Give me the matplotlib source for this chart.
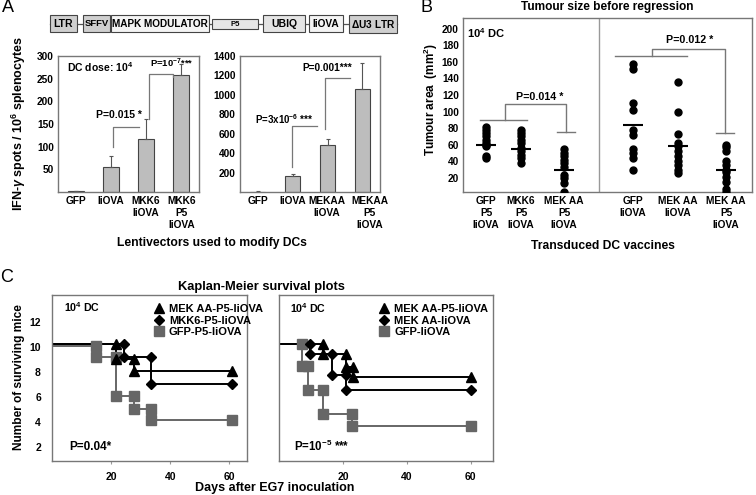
import numpy as np
import matplotlib
matplotlib.use('Agg')
import matplotlib.pyplot as plt
from matplotlib.patches import Rectangle
from matplotlib.lines import Line2D

plt.rcParams['font.family'] = ['Liberation Sans', 'DejaVu Sans']
plt.rcParams['font.weight'] = 'bold'
plt.rcParams['mathtext.fontset'] = 'custom'
plt.rcParams['mathtext.rm'] = 'Liberation Sans:bold'
plt.rcParams['mathtext.it'] = 'Liberation Sans:bold:italic'
plt.rcParams['mathtext.bf'] = 'Liberation Sans:bold'

# ---- data ----
# panel A, ELISPOT
a1_labels = ['GFP', 'IiOVA', 'MKK6\nIiOVA', 'MKK6\nP5\nIiOVA']
a1_vals = [2, 55, 118, 258]
a1_err = [1, 25, 44, 24]
a2_labels = ['GFP', 'IiOVA', 'MEKAA\nIiOVA', 'MEKAA\nP5\nIiOVA']
a2_vals = [5, 160, 480, 1065]
a2_err = [3, 30, 70, 260]

# panel B, tumour area per mouse
b_labels = ['GFP\nP5\nIiOVA', 'MKK6\nP5\nIiOVA', 'MEK AA\nP5\nIiOVA',
            'GFP\nIiOVA', 'MEK AA\nIiOVA', 'MEK AA\nP5\nIiOVA']
b_groups = [
    [82, 78, 74, 70, 66, 62, 60, 58, 46, 44],
    [78, 74, 70, 66, 62, 56, 52, 48, 44, 38],
    [55, 50, 46, 42, 38, 33, 24, 20, 14, 3],
    [157, 152, 111, 102, 78, 72, 55, 50, 44, 30],
    [136, 100, 73, 62, 58, 52, 46, 40, 35, 30, 26],
    [60, 57, 52, 41, 36, 30, 27, 21, 15, 7, 3],
]
b_means = [60, 55, 29, 84, 58, 30]

# panel C, Kaplan-Meier (event days, surviving numbers)
c1_tri_days = [21.7, 27.8]
c1_tri_n = [10.3, 9.1, 8.1]
c1_dia_days = [24.5, 33.4]
c1_dia_n = [10.3, 9.2, 7.1]
c1_sq_days = [14.8, 21.7, 27.8, 33.4]
c1_sq_n = [10.1, 9.2, 6.1, 5.1, 4.2]
c1_end = 61

c2_tri_days = [13.9, 20.9, 23.2]
c2_tri_n = [10.3, 9.5, 8.4, 7.6]
c2_dia_days = [9.7, 16.5, 21.1]
c2_dia_n = [10.3, 9.5, 7.8, 6.6]
c2_sq_days = [7.2, 9.0, 13.7, 23.0]
c2_sq_n = [10.3, 8.5, 6.6, 4.7, 3.7]
c2_end = 60

W, H = 756, 495
fig = plt.figure(figsize=(7.56, 4.95), dpi=100)


def rect(x0, y0, x1, y1):
    return [x0 / W, 1 - y1 / H, (x1 - x0) / W, (y1 - y0) / H]


def frame(ax):
    for s in ax.spines.values():
        s.set_color('#777777')
        s.set_linewidth(1.0)


# overlay in pixel coordinates for labels and the vector map
ov = fig.add_axes([0, 0, 1, 1])
ov.set_xlim(0, W)
ov.set_ylim(H, 0)
ov.axis('off')

ov.text(8, 8, 'A', fontsize=13, fontweight='normal', ha='center', va='center')
ov.text(426, 7, 'B', fontsize=13, fontweight='normal', ha='center', va='center')
ov.text(7, 278, 'C', fontsize=13, fontweight='normal', ha='center', va='center')

# lentivector map
ov.plot([50, 397], [24, 24], color='#555555', lw=0.9, zorder=1)
parts = [('LTR', 50, 77, 15, 32, '#cfcfcf', 7.5),
         ('SFFV', 83, 110, 15, 32, '#cfcfcf', 6.8),
         ('MAPK MODULATOR', 111, 209, 15, 32, '#f4f4f4', 7.2),
         ('P5', 212, 258, 19, 29, '#e6e6e6', 5.5),
         ('UBIQ', 263, 305, 15, 32, '#e4e4e4', 7.5),
         ('IiOVA', 309, 343, 15, 32, '#f4f4f4', 7.3),
         (r'$\Delta$U3 LTR', 349, 397, 15, 33, '#cfcfcf', 7.3)]
for name, x0, x1, y0, y1, fc, fs in parts:
    ov.add_patch(Rectangle((x0, y0), x1 - x0, y1 - y0, facecolor=fc,
                           edgecolor='#444444', lw=0.8, zorder=2))
    ov.text((x0 + x1) / 2, (y0 + y1) / 2 + 0.5, name, fontsize=fs,
            ha='center', va='center', zorder=3)

ov.text(19, 124, r'IFN-$\gamma$ spots / 10$^{6}$ splenocytes', fontsize=9,
        rotation=90, ha='center', va='center')
ov.text(212, 243, 'Lentivectors used to modify DCs', fontsize=8.7,
        ha='center', va='center')
ov.text(607, 7, 'Tumour size before regression', fontsize=8.6,
        ha='center', va='center')
ov.text(431, 100, 'Tumour area  (mm$^{2}$)', fontsize=8.5, rotation=90,
        ha='center', va='center')
ov.text(603, 246, 'Transduced DC vaccines', fontsize=8.7, ha='center', va='center')
ov.text(261, 287, 'Kaplan-Meier survival plots', fontsize=9.3,
        ha='center', va='center')
ov.text(19, 377, 'Number of surviving mice', fontsize=8.6, rotation=90,
        ha='center', va='center')
ov.text(275, 488, 'Days after EG7 inoculation', fontsize=9,
        ha='center', va='center')


# ---- panel A bars ----
def bars(ax, vals, err, labels, ymax, yticks, tickpos):
    x = np.arange(len(vals))
    ax.bar(x, vals, width=0.45, color='#bdbdbd', edgecolor='#444444', lw=0.8)
    ax.errorbar(x, vals, yerr=[np.zeros(len(err)), err], fmt='none',
                ecolor='#555555', elinewidth=0.8, capsize=1.5, capthick=0.8)
    ax.set_xlim(-0.5, 3.5)
    ax.set_ylim(0, ymax)
    ax.set_yticks(yticks)
    ax.set_xticks(tickpos)
    ax.set_xticklabels(labels, fontsize=7.3, linespacing=1.25)
    ax.tick_params(length=0, labelsize=7.3, pad=3)
    frame(ax)


bk = '#777777'
axA1 = fig.add_axes(rect(58, 56, 199, 192))
bars(axA1, a1_vals, a1_err, a1_labels, 300, range(50, 301, 50), [0, 1, 2, 3])
axA1.plot([1.07, 1.07, 1.79], [100, 144, 144], color=bk, lw=0.9)
axA1.plot([2.07, 2.07, 2.76, 2.76], [160, 261, 261, 254], color=bk, lw=0.9)
axA1.text(1.24, 170, 'P=0.015 *', fontsize=7.5, ha='center', va='center')
axA1.text(2.72, 284, 'P=10$^{-7}$***', fontsize=6.8, ha='center', va='center')
axA1.text(-0.25, 276, 'DC dose: 10$^{4}$', fontsize=7.5, ha='left', va='center')

axA2 = fig.add_axes(rect(240, 56, 380, 192))
bars(axA2, a2_vals, a2_err, a2_labels, 1400, range(200, 1401, 200),
     [0, 1, 1.98, 3.2])
axA2.plot([0.99, 0.99, 1.7], [261, 678, 678], color=bk, lw=0.9)
axA2.plot([1.93, 1.93, 2.64], [647, 1169, 1169], color=bk, lw=0.9)
axA2.text(0.75, 750, 'P=3x10$^{-6}$ ***', fontsize=7, ha='center', va='center')
axA2.text(2.0, 1273, 'P=0.001***', fontsize=7.3, ha='center', va='center')

# ---- panel B dot plot ----
axB = fig.add_axes(rect(463, 18, 752, 192))
pos = [0, 1, 2.23, 4.2, 5.49, 6.86]
for p, g, m in zip(pos, b_groups, b_means):
    axB.plot([p] * len(g), g, 'o', color='black', ms=5, zorder=3)
    axB.hlines(m, p - 0.28, p + 0.28, color='black', lw=1.5, zorder=4)
axB.axvline(3.23, color='#999999', lw=1)
axB.set_xlim(-0.66, 7.6)
axB.set_ylim(3, 213)
axB.set_yticks(range(20, 201, 20))
axB.set_xticks(pos)
axB.set_xticklabels(b_labels, fontsize=7.5, linespacing=1.25)
axB.tick_params(length=0, labelsize=7.3, pad=3)
frame(axB)
axB.plot([-0.17, 1.17], [90, 90], color=bk, lw=1)
axB.plot([0.54, 0.54, 2.29, 2.29], [90, 109, 109, 76], color=bk, lw=1)
axB.plot([2.03, 2.54], [76, 76], color=bk, lw=1)
axB.text(1.54, 118, 'P=0.014 *', fontsize=7.7, ha='center', va='center')
axB.plot([3.69, 5.74], [167, 167], color=bk, lw=1)
axB.plot([4.74, 4.74, 6.83, 6.83], [167, 176, 176, 74], color=bk, lw=1)
axB.plot([6.57, 7.09], [74, 74], color=bk, lw=1)
axB.text(5.83, 186, 'P=0.012 *', fontsize=7.7, ha='center', va='center')
axB.text(-0.55, 195, '10$^{4}$ DC', fontsize=8, ha='left', va='center')


# ---- panel C Kaplan-Meier ----
def km(ax, days, n, end, marker, color, ms):
    xs, ys = [0], [n[0]]
    for d, a, b in zip(days, n[:-1], n[1:]):
        xs += [d, d]
        ys += [a, b]
    xs.append(end)
    ys.append(n[-1])
    ax.plot(xs, ys, color=color, lw=1.4, zorder=2)
    ax.plot(xs[1:], ys[1:], marker, color=color, ms=ms, ls='none', zorder=3)


def km_axes(ax, xmax, show_y):
    ax.set_xlim(0, xmax)
    ax.set_ylim(0.9, 14.2)
    ax.set_xticks([20, 40, 60])
    ax.set_yticks(range(2, 13, 2))
    if not show_y:
        ax.set_yticklabels([])
    ax.tick_params(axis='x', length=2, labelsize=7.5, pad=6, color='#999999')
    ax.tick_params(axis='y', length=0, labelsize=7.5, pad=8)
    frame(ax)


gray = '#666666'
axC1 = fig.add_axes(rect(52, 295, 247, 461))
km(axC1, c1_sq_days, c1_sq_n, c1_end, 's', gray, 7)
km(axC1, c1_dia_days, c1_dia_n, c1_end, 'D', 'black', 5.5)
km(axC1, c1_tri_days, c1_tri_n, c1_end, '^', 'black', 7)
km_axes(axC1, 66, True)
h1 = [Line2D([], [], marker='^', color='black', ls='none', ms=7),
      Line2D([], [], marker='D', color='black', ls='none', ms=5.5),
      Line2D([], [], marker='s', color=gray, ls='none', ms=7)]
axC1.legend(h1, ['MEK AA-P5-IiOVA', 'MKK6-P5-IiOVA', 'GFP-P5-IiOVA'],
            loc='upper left', bbox_to_anchor=(0.48, 1.0), frameon=False,
            fontsize=8, handlelength=0.8, handletextpad=0.5,
            labelspacing=0.15, borderaxespad=0.4)
axC1.text(0.06, 0.93, '10$^{4}$ DC', transform=axC1.transAxes, fontsize=7.7,
          ha='left', va='center')
axC1.text(0.09, 0.085, 'P=0.04*', transform=axC1.transAxes, fontsize=8.5,
          ha='left', va='center')

axC2 = fig.add_axes(rect(279, 295, 493, 461))
km(axC2, c2_sq_days, c2_sq_n, c2_end, 's', gray, 7)
km(axC2, c2_dia_days, c2_dia_n, c2_end, 'D', 'black', 5.5)
km(axC2, c2_tri_days, c2_tri_n, c2_end, '^', 'black', 7)
km_axes(axC2, 67, False)
axC2.legend(h1, ['MEK AA-P5-IiOVA', 'MEK AA-IiOVA', 'GFP-IiOVA'],
            loc='upper left', bbox_to_anchor=(0.43, 1.0), frameon=False,
            fontsize=8, handlelength=0.8, handletextpad=0.5,
            labelspacing=0.15, borderaxespad=0.4)
axC2.text(0.05, 0.92, '10$^{4}$ DC', transform=axC2.transAxes, fontsize=7.7,
          ha='left', va='center')
axC2.text(0.07, 0.085, 'P=10$^{-5}$ ***', transform=axC2.transAxes,
          fontsize=8.3, ha='left', va='center')

fig.savefig('out.png', dpi=100)
